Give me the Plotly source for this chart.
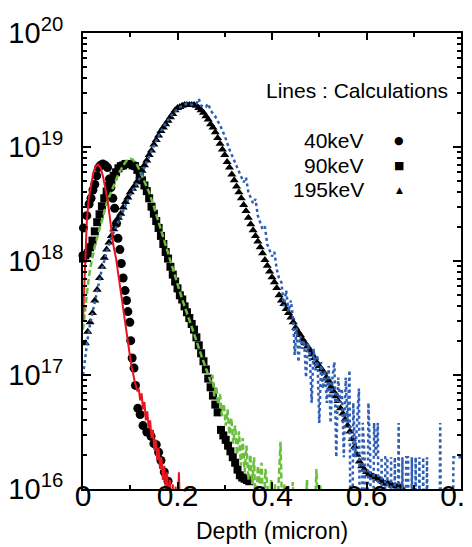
import plotly.graph_objects as go

# ---------------- data (depth in micron, concentration in cm^-3) ----------------
CIRCLES_40KEV = [
    (0.000, 1.12e18), (0.001, 1.95e18), (0.008, 2.5e18), (0.013, 3.16e18), (0.017, 3.55e18),
    (0.021, 4.2e18), (0.025, 4.7e18), (0.029, 5.6e18), (0.033, 6.6e18), (0.037, 6.9e18),
    (0.042, 7.1e18), (0.047, 6.9e18), (0.052, 6.6e18), (0.056, 5.25e18), (0.059, 4.4e18),
    (0.063, 3.55e18), (0.067, 2.9e18), (0.071, 2.14e18), (0.074, 1.58e18), (0.078, 1.26e18),
    (0.081, 9.5e17), (0.085, 7.1e17), (0.089, 5.5e17), (0.092, 4.5e17), (0.095, 3.6e17),
    (0.099, 2.9e17), (0.101, 2.0e17), (0.104, 1.41e17), (0.108, 1.15e17), (0.111, 8.1e16),
    (0.116, 5.1e16), (0.121, 4.5e16), (0.127, 3.6e16), (0.135, 3.16e16), (0.144, 2.9e16),
    (0.150, 2.5e16), (0.155, 2.45e16), (0.160, 2.1e16), (0.165, 1.78e16), (0.172, 1.41e16),
    (0.180, 1.17e16),
]

SQUARES_90KEV = [
    (0.000, 1.05e18), (0.005, 1.12e18), (0.010, 1.17e18), (0.015, 1.32e18), (0.020, 1.51e18),
    (0.025, 1.82e18), (0.030, 2.19e18), (0.035, 2.57e18), (0.040, 3.02e18), (0.045, 3.55e18),
    (0.050, 4.07e18), (0.055, 4.57e18), (0.060, 5.1e18), (0.065, 5.6e18), (0.070, 6.0e18),
    (0.075, 6.5e18), (0.080, 6.8e18), (0.085, 6.9e18), (0.090, 7.1e18), (0.095, 7.1e18),
    (0.100, 7.1e18), (0.105, 6.9e18), (0.110, 6.8e18), (0.115, 6.3e18), (0.120, 5.75e18),
    (0.125, 5.1e18), (0.130, 4.6e18), (0.135, 4.1e18), (0.140, 3.55e18), (0.145, 3.0e18),
    (0.150, 2.6e18), (0.155, 2.24e18), (0.160, 1.95e18), (0.165, 1.66e18), (0.170, 1.41e18),
    (0.175, 1.2e18), (0.180, 1.05e18), (0.185, 8.9e17), (0.190, 7.6e17), (0.195, 6.6e17),
    (0.200, 5.75e17), (0.205, 5.0e17), (0.210, 4.6e17), (0.215, 4.0e17), (0.220, 3.55e17),
    (0.225, 3.16e17), (0.230, 2.8e17), (0.235, 2.5e17), (0.240, 2.14e17), (0.245, 1.82e17),
    (0.250, 1.55e17), (0.255, 1.32e17), (0.260, 1.12e17), (0.265, 9.3e16), (0.270, 7.8e16),
    (0.275, 6.6e16), (0.280, 5.5e16), (0.285, 4.7e16), (0.292, 3.3e16), (0.297, 2.95e16),
    (0.302, 2.7e16), (0.307, 2.4e16), (0.312, 2.14e16), (0.317, 1.9e16), (0.322, 1.7e16),
    (0.327, 1.48e16), (0.332, 1.32e16), (0.337, 1.26e16), (0.342, 1.23e16), (0.347, 1.2e16),
    (0.352, 1.17e16),
]

TRIANGLES_195KEV = [
    (0.005, 1.9e17), (0.010, 2.4e17), (0.015, 2.9e17), (0.020, 3.5e17), (0.025, 4.5e17),
    (0.030, 5.6e17), (0.035, 7.1e17), (0.040, 8.9e17), (0.045, 1.07e18), (0.050, 1.26e18),
    (0.055, 1.45e18), (0.060, 1.66e18), (0.065, 1.9e18), (0.070, 2.1e18), (0.075, 2.4e18),
    (0.080, 2.6e18), (0.085, 2.95e18), (0.090, 3.3e18), (0.095, 3.6e18), (0.100, 4.0e18),
    (0.105, 4.3e18), (0.110, 4.6e18), (0.115, 5.0e18), (0.120, 5.5e18), (0.125, 6.2e18),
    (0.130, 6.9e18), (0.135, 7.6e18), (0.140, 8.5e18), (0.145, 9.3e18), (0.150, 1.05e19),
    (0.155, 1.15e19), (0.160, 1.26e19), (0.165, 1.38e19), (0.170, 1.48e19), (0.175, 1.58e19),
    (0.180, 1.7e19), (0.185, 1.82e19), (0.190, 1.95e19), (0.195, 2.1e19), (0.200, 2.2e19),
    (0.205, 2.24e19), (0.210, 2.3e19), (0.215, 2.34e19), (0.220, 2.34e19), (0.225, 2.34e19),
    (0.230, 2.34e19), (0.235, 2.34e19), (0.240, 2.3e19), (0.245, 2.2e19), (0.250, 2.1e19),
    (0.255, 2.0e19), (0.260, 1.86e19), (0.265, 1.74e19), (0.270, 1.58e19), (0.275, 1.48e19),
    (0.280, 1.35e19), (0.285, 1.2e19), (0.290, 1.07e19), (0.295, 9.5e18), (0.300, 8.5e18),
    (0.305, 7.4e18), (0.310, 6.6e18), (0.315, 5.75e18), (0.320, 5.1e18), (0.325, 4.5e18),
    (0.330, 4.0e18), (0.335, 3.55e18), (0.340, 3.1e18), (0.345, 2.75e18), (0.350, 2.4e18),
    (0.355, 2.1e18), (0.360, 1.86e18), (0.365, 1.66e18), (0.370, 1.48e18), (0.375, 1.32e18),
    (0.380, 1.17e18), (0.385, 1.02e18), (0.390, 9.1e17), (0.395, 8.1e17), (0.400, 7.2e17),
    (0.405, 6.5e17), (0.410, 5.8e17), (0.415, 5.0e17), (0.420, 4.5e17), (0.425, 4.2e17),
    (0.430, 3.8e17), (0.435, 3.5e17), (0.440, 3.2e17), (0.445, 2.9e17), (0.450, 2.6e17),
    (0.455, 2.4e17), (0.460, 2.24e17), (0.465, 2.05e17), (0.470, 1.9e17), (0.475, 1.78e17),
    (0.480, 1.66e17), (0.485, 1.51e17), (0.490, 1.41e17), (0.495, 1.29e17), (0.500, 1.2e17),
    (0.505, 1.12e17), (0.510, 1.05e17), (0.515, 9.5e16), (0.520, 8.9e16), (0.525, 7.9e16),
    (0.530, 7.2e16), (0.535, 6.5e16), (0.540, 5.9e16), (0.545, 5.1e16), (0.550, 4.6e16),
    (0.555, 4.1e16), (0.560, 3.6e16), (0.565, 3.2e16), (0.570, 2.75e16), (0.575, 2.35e16),
    (0.580, 2.0e16), (0.585, 1.74e16), (0.590, 1.58e16), (0.595, 1.48e16), (0.600, 1.41e16),
    (0.605, 1.35e16), (0.610, 1.32e16), (0.615, 1.29e16), (0.620, 1.26e16), (0.625, 1.23e16),
    (0.630, 1.2e16), (0.635, 1.15e16), (0.640, 1.12e16), (0.645, 1.12e16), (0.650, 1.1e16),
    (0.655, 1.07e16), (0.660, 1.07e16), (0.665, 1.05e16), (0.670, 1.05e16), (0.675, 1.02e16),
]

CALC_40KEV = [
    (0.000, 3.0e17), (0.004, 1.0e18), (0.008, 2.2e18), (0.012, 3.5e18), (0.017, 4.8e18),
    (0.022, 6.0e18), (0.027, 6.8e18), (0.032, 7.0e18), (0.037, 6.6e18), (0.042, 5.6e18),
    (0.047, 4.4e18), (0.053, 3.2e18), (0.058, 2.2e18), (0.064, 1.4e18), (0.070, 1.05e18),
    (0.075, 7.6e17), (0.080, 5.5e17), (0.085, 4.0e17), (0.089, 3.16e17), (0.095, 2.0e17),
    (0.102, 1.23e17), (0.109, 9.0e16), (0.115, 7.2e16), (0.118, 7.6e16), (0.121, 6.0e16),
    (0.124, 6.9e16), (0.127, 5.0e16), (0.130, 5.8e16), (0.133, 4.0e16), (0.136, 4.8e16),
    (0.139, 3.4e16), (0.142, 4.0e16), (0.145, 2.8e16), (0.148, 3.3e16), (0.151, 2.2e16),
    (0.154, 2.7e16), (0.157, 1.8e16), (0.160, 2.3e16), (0.163, 1.5e16), (0.166, 1.9e16),
    (0.169, 1.2e16), (0.172, 1.6e16), (0.175, 1.0e16), (0.178, 1.4e16), (0.181, 0.7e16),
    (0.184, 1.2e16), (0.187, 0.5e16), (0.190, 1.1e16), (0.193, 0.5e16), (0.196, 1.05e16),
    (0.199, 0.5e16), (0.203, 1.4e16), (0.206, 0.5e16),
]

CALC_90KEV = [
    (0.000, 2.5e17), (0.005, 4.2e17), (0.010, 6.0e17), (0.015, 8.5e17), (0.020, 1.1e18),
    (0.025, 1.35e18), (0.030, 1.6e18), (0.035, 1.9e18), (0.040, 2.3e18), (0.045, 2.7e18),
    (0.050, 3.2e18), (0.055, 3.6e18), (0.060, 4.1e18), (0.065, 4.6e18), (0.070, 5.2e18),
    (0.075, 5.8e18), (0.080, 6.3e18), (0.085, 6.9e18), (0.090, 7.4e18), (0.095, 7.8e18),
    (0.100, 7.9e18), (0.105, 7.8e18), (0.110, 7.4e18), (0.115, 6.9e18), (0.120, 6.2e18),
    (0.130, 5.0e18), (0.140, 4.0e18), (0.150, 3.0e18), (0.160, 2.2e18), (0.170, 1.6e18),
    (0.180, 1.15e18), (0.190, 8.3e17), (0.200, 6.1e17), (0.210, 4.6e17), (0.220, 3.5e17),
    (0.230, 2.7e17), (0.240, 2.0e17), (0.250, 1.5e17), (0.260, 1.15e17), (0.270, 8.8e16),
    (0.274, 1.0e17), (0.278, 6.5e16), (0.282, 8.0e16), (0.286, 5.5e16), (0.290, 6.8e16),
    (0.294, 4.4e16), (0.298, 5.6e16), (0.302, 3.6e16), (0.306, 5.0e16), (0.310, 3.0e16),
    (0.314, 4.2e16), (0.318, 2.5e16), (0.322, 3.6e16), (0.326, 2.0e16), (0.330, 3.2e16),
    (0.334, 1.6e16), (0.338, 2.8e16), (0.342, 1.4e16), (0.346, 2.4e16), (0.350, 1.2e16),
    (0.354, 2.0e16), (0.358, 1.1e16), (0.362, 1.9e16), (0.366, 0.5e16), (0.370, 1.6e16),
    (0.374, 1.1e16), (0.378, 1.7e16), (0.382, 0.5e16), (0.386, 1.5e16), (0.390, 1.1e16),
    (0.394, 0.5e16), (0.398, 1.2e16), (0.402, 0.5e16), (0.406, 1.1e16), (0.410, 0.5e16),
    (0.414, 1.2e16), (0.418, 2.6e16), (0.422, 0.5e16), (0.426, 1.1e16), (0.430, 0.5e16),
    (0.440, 0.5e16), (0.444, 1.15e16), (0.448, 0.5e16), (0.470, 0.5e16), (0.474, 1.2e16),
    (0.478, 0.5e16), (0.490, 0.5e16), (0.494, 1.5e16), (0.498, 0.5e16), (0.502, 1.1e16),
    (0.506, 0.5e16),
]

CALC_195KEV = [
    (0.000, 1.0e17), (0.005, 1.5e17), (0.010, 2.1e17), (0.015, 2.8e17), (0.020, 3.5e17),
    (0.025, 4.3e17), (0.030, 5.6e17), (0.035, 7.0e17), (0.040, 8.5e17), (0.045, 1.0e18),
    (0.050, 1.2e18), (0.060, 1.6e18), (0.070, 2.0e18), (0.080, 2.5e18), (0.090, 3.1e18),
    (0.100, 3.8e18), (0.110, 4.5e18), (0.120, 5.3e18), (0.130, 6.6e18), (0.140, 8.3e18),
    (0.150, 1.03e19), (0.160, 1.25e19), (0.170, 1.5e19), (0.180, 1.72e19), (0.190, 1.95e19),
    (0.200, 2.15e19), (0.210, 2.3e19), (0.220, 2.4e19), (0.230, 2.35e19), (0.240, 2.4e19),
    (0.245, 2.65e19), (0.250, 2.3e19), (0.260, 2.25e19), (0.265, 2.4e19), (0.270, 2.1e19),
    (0.280, 1.85e19), (0.290, 1.55e19), (0.300, 1.25e19), (0.310, 9.5e18), (0.320, 7.6e18),
    (0.330, 6.0e18), (0.340, 4.9e18), (0.345, 5.4e18), (0.350, 4.0e18), (0.360, 3.2e18),
    (0.365, 3.5e18), (0.370, 2.5e18), (0.380, 1.9e18), (0.385, 2.0e18), (0.390, 1.4e18),
    (0.400, 1.1e18), (0.405, 1.2e18), (0.410, 8.5e17), (0.415, 7.0e17), (0.420, 6.5e17),
    (0.425, 4.0e17), (0.430, 5.5e17), (0.435, 3.6e17), (0.440, 4.5e17), (0.445, 3.0e17),
    (0.448, 1.5e17), (0.452, 2.6e17), (0.456, 1.3e17), (0.460, 2.2e17), (0.464, 1.7e17),
    (0.468, 2.0e17), (0.472, 9.5e16), (0.476, 1.9e17), (0.480, 1.5e17), (0.484, 5.7e16),
    (0.488, 1.7e17), (0.492, 1.1e17), (0.496, 1.5e17), (0.500, 3.8e16), (0.504, 1.3e17),
    (0.508, 7.6e16), (0.512, 1.1e17), (0.516, 5.7e16), (0.520, 1.2e17), (0.524, 3.8e16),
    (0.528, 9.5e16), (0.532, 1.3e17), (0.536, 1.9e16), (0.540, 9.5e16), (0.544, 5.7e16),
    (0.548, 7.6e16), (0.552, 1.9e16), (0.556, 9.5e16), (0.560, 3.8e16), (0.564, 1.1e17),
    (0.568, 1e14), (0.572, 5.7e16), (0.576, 1.9e16), (0.580, 3.8e16), (0.584, 7.6e16),
    (0.588, 1e14), (0.592, 3.8e16), (0.596, 1.9e16), (0.600, 1e14), (0.604, 5.7e16),
    (0.608, 1.9e16), (0.612, 1e14), (0.616, 3.8e16), (0.620, 1.9e16), (0.624, 3.8e16),
    (0.628, 1e14), (0.632, 1.9e16), (0.636, 1e14), (0.640, 1.9e16), (0.644, 1.9e16),
    (0.648, 1e14), (0.652, 1.9e16), (0.656, 1e14), (0.660, 1.9e16), (0.664, 1e14),
    (0.668, 3.8e16), (0.672, 1e14), (0.676, 1.9e16), (0.680, 1e14), (0.684, 1.9e16),
    (0.688, 1.9e16), (0.692, 1e14), (0.696, 1.9e16), (0.700, 1e14), (0.704, 1.9e16),
    (0.708, 1e14), (0.712, 1.9e16), (0.716, 1e14), (0.720, 1.9e16), (0.724, 1e14),
    (0.728, 1.9e16), (0.732, 1e14), (0.752, 1e14), (0.756, 3.8e16), (0.760, 1e14),
    (0.780, 1e14), (0.784, 1.9e16), (0.788, 1.9e16), (0.792, 1.9e16), (0.796, 1.9e16),
    (0.800, 1.9e16),
]

X_TICKS = [0, 0.2, 0.4, 0.6, 0.8]
X_TICK_TEXT = ["0", "0.2", "0.4", "0.6", "0.8"]
Y_DECADES = [16, 17, 18, 19, 20]
LEGEND_LABELS = ["40keV", "90keV", "195keV"]
LEGEND_SYMBOLS = ["\u25CF", "\u25A0", "\u25B2"]


def split(pairs):
    return [p[0] for p in pairs], [p[1] for p in pairs]


fig = go.Figure()

for pairs, sym, size in [(CIRCLES_40KEV, "circle", 9),
                         (SQUARES_90KEV, "square", 8),
                         (TRIANGLES_195KEV, "triangle-up", 8)]:
    x, y = split(pairs)
    fig.add_trace(go.Scatter(x=x, y=y, mode="markers", cliponaxis=False,
                             marker=dict(symbol=sym, size=size, color="black"),
                             showlegend=False))

for pairs, color, width, dash in [(CALC_90KEV, "#6cbf3c", 2.5, "6px,3px"),
                                  (CALC_195KEV, "#2f5fb5", 2.5, "dot"),
                                  (CALC_40KEV, "#e8141e", 2, "solid")]:
    x, y = split(pairs)
    fig.add_trace(go.Scatter(x=x, y=y, mode="lines",
                             line=dict(color=color, width=width, dash=dash),
                             showlegend=False))

FONT = "Liberation Sans, Arial, sans-serif"

minor_y = [m * 10.0 ** e for e in Y_DECADES[:-1] for m in range(2, 10)]

fig.update_xaxes(range=[0, 0.8], tickvals=X_TICKS, ticktext=X_TICK_TEXT,
                 ticks="inside", ticklen=7, tickwidth=1.5, tickcolor="black",
                 showline=True, linecolor="black", linewidth=2, mirror="ticks",
                 showgrid=False, zeroline=False, automargin=False,
                 ticklabelstandoff=-21, ticklabeloverflow="allow",
                 minor=dict(tickvals=[0.1, 0.3, 0.5, 0.7], ticks="inside", ticklen=4,
                            tickcolor="black", tickwidth=1.5, showgrid=False),
                 tickfont=dict(family=FONT, size=30, color="black"))

fig.update_yaxes(type="log", range=[16, 20],
                 tickvals=[10.0 ** e for e in Y_DECADES],
                 ticktext=[f"10<sup>{e}</sup>" for e in Y_DECADES],
                 ticks="inside", ticklen=8, tickwidth=1.5, tickcolor="black",
                 showline=True, linecolor="black", linewidth=2, mirror="ticks",
                 showgrid=False, zeroline=False, ticklabelstandoff=12, automargin=False,
                 ticklabeloverflow="allow",
                 minor=dict(tickvals=minor_y, ticks="inside", ticklen=4,
                            tickcolor="black", tickwidth=1.5, showgrid=False),
                 tickfont=dict(family=FONT, size=29, color="black"))

annotations = [
    dict(x=0.5, y=-0.093, xref="paper", yref="paper", xanchor="center", yanchor="middle",
         showarrow=False, text="Depth (micron)", font=dict(family=FONT, size=23, color="black")),
    dict(x=0.971, y=0.873, xref="paper", yref="paper", xanchor="right",
         yanchor="middle", showarrow=False, text="Lines : Calculations",
         font=dict(family=FONT, size=21, color="black")),
]
for i, (lab, sym) in enumerate(zip(LEGEND_LABELS, LEGEND_SYMBOLS)):
    yy = 0.765 - i * 0.0545
    annotations.append(dict(x=0.749, y=yy, xref="paper", yref="paper", xanchor="right",
                            yanchor="middle", showarrow=False, text=lab,
                            font=dict(family=FONT, size=21, color="black")))
    annotations.append(dict(x=0.836, y=yy, xref="paper", yref="paper", xanchor="center",
                            yanchor="middle", showarrow=False, text=sym,
                            font=dict(family="DejaVu Sans", size=11 if i < 2 else 9,
                                      color="black")))

fig.update_layout(width=472, height=547,
                  margin=dict(l=75, r=19, t=25, b=66),
                  paper_bgcolor="white", plot_bgcolor="white",
                  annotations=annotations)

fig.write_html("out.html")
